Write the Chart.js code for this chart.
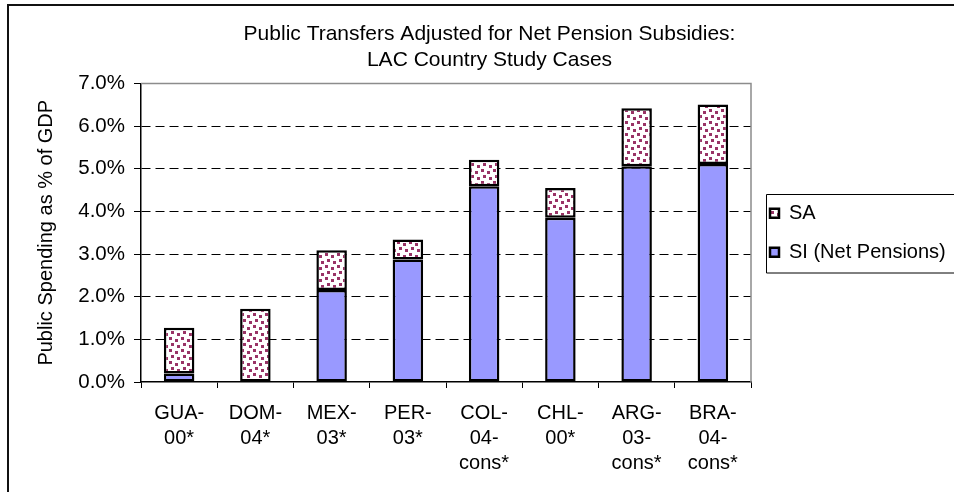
<!DOCTYPE html>
<html>
<head>
<meta charset="utf-8">
<script src="https://cdn.jsdelivr.net/npm/chart.js@4/dist/chart.umd.min.js"></script>
<style>
    html, body { margin: 0; padding: 0; background: #fff; overflow: hidden; }
    #wrap { position: relative; width: 954px; height: 492px; }
</style>
</head>
<body>
<div id="wrap"><canvas id="canvasTransfers"></canvas></div>
<script>
// Datos del gráfico (% del PIB)
const categorias = [
    ['GUA-', '00*'], ['DOM-', '04*'], ['MEX-', '03*'], ['PER-', '03*'],
    ['COL-', '04-', 'cons*'], ['CHL-', '00*'], ['ARG-', '03-', 'cons*'], ['BRA-', '04-', 'cons*']
]
const valoresSI = [0.20, 0.00, 2.16, 2.87, 4.59, 3.85, 5.06, 5.11]
const valoresSA = [1.07, 1.72, 0.93, 0.47, 0.62, 0.70, 1.36, 1.40]
const ticksY = [0, 1, 2, 3, 4, 5, 6, 7]
const titulo = ['Public Transfers Adjusted for Net Pension Subsidies:', 'LAC Country Study Cases']

Chart.defaults.font.family = '"Liberation Sans", Arial, sans-serif'
Chart.defaults.font.size = 20
Chart.defaults.color = '#000'

// Patrón de confeti para SA
const crearPatron = () => {
    const tile = document.createElement('canvas')
    tile.width = 12
    tile.height = 12
    const c = tile.getContext('2d')
    c.fillStyle = '#fff'
    c.fillRect(0, 0, 12, 12)
    c.fillStyle = 'rgb(153, 51, 102)'
    c.fillRect(1, 1, 3, 3)
    c.fillRect(7, 3, 3, 3)
    c.fillRect(3, 7, 3, 3)
    c.fillRect(9, 9, 3, 3)
    return c.createPattern(tile, 'repeat')
}

// Bordes: marco exterior, borde gris del área y caja de la leyenda
const bordesPlugin = {
    id: 'bordes',
    beforeDatasetsDraw(chart) {
        const { ctx, chartArea } = chart
        ctx.save()
        ctx.strokeStyle = '#8c8c8c'
        ctx.lineWidth = 1.5
        ctx.beginPath()
        ctx.moveTo(chartArea.left, chartArea.top)
        ctx.lineTo(chartArea.right, chartArea.top)
        ctx.lineTo(chartArea.right, chartArea.bottom)
        ctx.stroke()
        ctx.restore()
    },
    afterDraw(chart) {
        const { ctx } = chart
        ctx.save()
        ctx.strokeStyle = '#111'
        ctx.lineWidth = 2
        ctx.beginPath()
        ctx.moveTo(8, chart.height + 5)
        ctx.lineTo(8, 5)
        ctx.lineTo(chart.width + 5, 5)
        ctx.stroke()
        const cajas = chart.legend.legendHitBoxes
        if (cajas && cajas.length) {
            const primero = cajas[0]
            const ultimo = cajas[cajas.length - 1]
            const x = Math.round(primero.left - 4) + 0.5
            const y = Math.round(primero.top - 9) + 0.5
            const h = Math.round(ultimo.top + ultimo.height + 11) - y
            ctx.strokeStyle = '#000'
            ctx.lineWidth = 1
            ctx.beginPath()
            ctx.moveTo(chart.width + 5, y)
            ctx.lineTo(x, y)
            ctx.lineTo(x, y + h)
            ctx.lineTo(chart.width + 5, y + h)
            ctx.stroke()
        }
        ctx.restore()
    }
}

const ctx = document.getElementById('canvasTransfers').getContext('2d')
window.myBar = new Chart(ctx, {
    type: 'bar',
    data: {
        labels: categorias,
        datasets: [{
            label: 'SI (Net Pensions)',
            backgroundColor: '#9999ff',
            borderColor: '#000',
            borderWidth: 2.5,
            borderSkipped: false,
            data: valoresSI
        },
        {
            label: 'SA',
            backgroundColor: crearPatron(),
            borderColor: '#000',
            borderWidth: 2.5,
            borderSkipped: false,
            data: valoresSA
        }]
    },
    options: {
        responsive: true,
        maintainAspectRatio: false,
        animation: false,
        datasets: { bar: { barPercentage: 0.4, categoryPercentage: 1 } },
        layout: { padding: { left: 28, right: 3, top: 5, bottom: 0 } },
        plugins: {
            title: {
                display: true,
                text: titulo,
                font: { size: 21, weight: 'normal', lineHeight: 1.25 },
                padding: { top: 16, bottom: 10 }
            },
            legend: {
                position: 'right',
                fullSize: false,
                reverse: true,
                maxWidth: 200,
                labels: { boxWidth: 9, boxHeight: 9, padding: 19, font: { size: 20 } }
            },
            tooltip: { enabled: false }
        },
        scales: {
            x: {
                stacked: true,
                grid: { drawOnChartArea: false, drawTicks: true, tickLength: 6, color: '#000', offset: true },
                border: { color: '#000', width: 1.5 },
                ticks: { maxRotation: 0, autoSkip: false, padding: 13, font: { size: 20, lineHeight: 1.25 } },
                afterFit: (scale) => { scale.height = 110 }
            },
            y: {
                stacked: true,
                min: 0,
                max: 7,
                afterBuildTicks: (scale) => { scale.ticks = ticksY.map(v => ({ value: v })) },
                grid: {
                    color: (c) => (c.tick && (c.tick.value === 0 || c.tick.value === 7)) ? 'rgba(0,0,0,0)' : '#000',
                    tickColor: '#000',
                    tickLength: 7,
                    lineWidth: 1
                },
                border: { color: '#000', width: 1.5, dash: [9, 5] },
                ticks: { padding: 9, font: { size: 20.5 }, callback: (v) => v.toFixed(1) + '%' },
                title: {
                    display: true,
                    text: 'Public Spending as % of GDP',
                    font: { size: 20 },
                    padding: { top: 6, bottom: 0 }
                },
                afterFit: (scale) => { scale.width = 113 }
            }
        }
    },
    plugins: [bordesPlugin]
})
</script>
</body>
</html>
